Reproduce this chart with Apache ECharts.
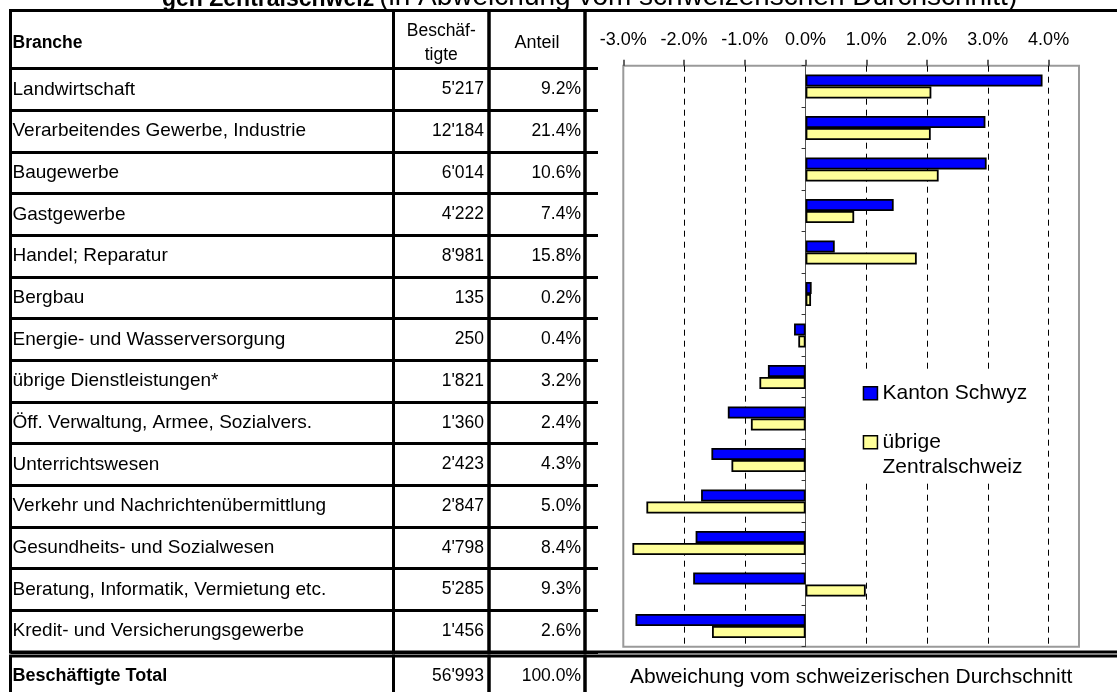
<!DOCTYPE html>
<html>
<head>
<meta charset="utf-8">
<script src="https://cdn.jsdelivr.net/npm/echarts/dist/echarts.min.js"></script>
<style>
  html, body { margin: 0; padding: 0; background: #fff; }
  #chart { width: 1117px; height: 692px; }
</style>
</head>
<body>
<div id="chart"></div>
<script>
// Daten
const branchen = [
  'Landwirtschaft',
  'Verarbeitendes Gewerbe, Industrie',
  'Baugewerbe',
  'Gastgewerbe',
  'Handel; Reparatur',
  'Bergbau',
  'Energie- und Wasserversorgung',
  'übrige Dienstleistungen*',
  'Öff. Verwaltung, Armee, Sozialvers.',
  'Unterrichtswesen',
  'Verkehr und Nachrichtenübermittlung',
  'Gesundheits- und Sozialwesen',
  'Beratung, Informatik, Vermietung etc.',
  'Kredit- und Versicherungsgewerbe'
];
const beschaeftigte = [5217, 12184, 6014, 4222, 8981, 135, 250, 1821, 1360, 2423, 2847, 4798, 5285, 1456];
const anteil = [9.2, 21.4, 10.6, 7.4, 15.8, 0.2, 0.4, 3.2, 2.4, 4.3, 5.0, 8.4, 9.3, 2.6];
const kantonSchwyz = [3.90, 2.96, 2.98, 1.45, 0.48, 0.10, -0.19, -0.62, -1.28, -1.55, -1.72, -1.81, -1.85, -2.80];
const uebrigeZentralschweiz = [2.07, 2.06, 2.19, 0.80, 1.83, 0.09, -0.12, -0.76, -0.90, -1.22, -2.62, -2.85, 0.99, -1.54];
const gridTicks = [-2, -1, 1, 2, 3, 4];
const headers = ['Branche', 'Beschäf-\ntigte', 'Anteil'];
const totalLabel = 'Beschäftigte Total';
const totalBeschaeftigte = 56993;
const totalAnteil = 100.0;
const axisTitle = 'Abweichung vom schweizerischen Durchschnitt';
const titleBold = 'gen Zentralschweiz';
const titleRest = '(in Abweichung vom schweizerischen Durchschnitt)';

const FONT = "'Liberation Sans', Arial, sans-serif";

const fmtNum = n => String(n).replace(/\B(?=(\d{3})+(?!\d))/g, "'");
const fmtPct = v => v.toFixed(1) + '%';

// Tabellen-Layout (Pixel)
const T = 10.5, HB = 68.5, DB = 652, TT = 656, TB = 696;
const HEAD_SHIFT = 3.5;
const cols = [[10.5, 393.5], [393.5, 489], [489, 585]];

const grids = [];
const xAxes = [];
const yAxes = [];

// Balkendiagramm
grids.push({ left: 623.3, top: 65.7, width: 455.7, height: 581, show: true,
  borderColor: '#9a9a9a', borderWidth: 2, backgroundColor: '#fff', containLabel: false, outerBoundsMode: 'none' });
xAxes.push({
  gridIndex: 0, type: 'value', position: 'top', min: -3, max: 4.5, interval: 1,
  axisLine: { show: false },
  axisTick: { show: true, length: 6, lineStyle: { color: '#333', width: 1.5 } },
  axisLabel: { formatter: fmtPct, showMaxLabel: false, fontSize: 18, margin: 17, color: '#000', fontFamily: FONT },
  splitLine: { show: false }
});
xAxes.push({
  gridIndex: 0, type: 'value', position: 'bottom', min: -3, max: 4.5,
  axisLine: { show: false }, axisTick: { show: false }, axisLabel: { show: false }, splitLine: { show: false },
  name: axisTitle, nameLocation: 'middle', nameGap: 20,
  nameTextStyle: { fontSize: 21, color: '#000', fontFamily: FONT }
});
yAxes.push({
  gridIndex: 0, type: 'category', inverse: true, data: branchen,
  axisLine: { show: true, onZero: true, lineStyle: { color: '#555', width: 1 } },
  axisTick: { show: true, length: 4, lineStyle: { color: '#333', width: 1 } },
  axisLabel: { show: false }, splitLine: { show: false }
});

function addCell(x0, x1, y0, y1, o) {
  const gi = grids.length;
  grids.push({ left: x0, top: y0, width: x1 - x0, height: y1 - y0, show: o.border !== false,
    borderColor: '#000', borderWidth: 3, backgroundColor: 'transparent', containLabel: false, outerBoundsMode: 'none' });
  xAxes.push({ gridIndex: gi, type: 'value', show: false });
  yAxes.push({
    gridIndex: gi, type: 'category', inverse: true, position: o.position || 'left', data: o.data,
    axisLine: { show: false }, axisTick: { show: false },
    splitLine: { show: !!o.split, interval: 0, lineStyle: { color: '#000', width: 3 } },
    axisLabel: Object.assign({
      show: o.label !== false, inside: true, interval: 0, margin: o.margin || 2,
      fontFamily: FONT, fontSize: 19, color: '#000', formatter: o.formatter
    }, o.labelStyle || {})
  });
}

// Kopfzeile: Rahmen, dann Beschriftung
cols.forEach(c => addCell(c[0], c[1], T, HB, { data: [''], label: false }));
addCell(cols[0][0], cols[0][1], T + HEAD_SHIFT, HB + HEAD_SHIFT, { data: [headers[0]], border: false,
  labelStyle: { fontWeight: 'bold', fontSize: 17.5 } });
addCell(cols[1][0], cols[1][1], T + HEAD_SHIFT, HB + HEAD_SHIFT, { data: [headers[1]], border: false,
  margin: (cols[1][1] - cols[1][0]) / 2, labelStyle: { align: 'center', fontSize: 17.5, lineHeight: 24 } });
addCell(cols[2][0], cols[2][1], T + HEAD_SHIFT, HB + HEAD_SHIFT, { data: [headers[2]], border: false,
  margin: (cols[2][1] - cols[2][0]) / 2, labelStyle: { align: 'center', fontSize: 18 } });
// Datenzeilen
addCell(cols[0][0], cols[0][1], HB, DB, { data: branchen, split: true });
addCell(cols[1][0], cols[1][1], HB, DB, { data: branchen, split: true, position: 'right', margin: 5,
  formatter: (v, i) => fmtNum(beschaeftigte[i]), labelStyle: { fontSize: 17.5 } });
addCell(cols[2][0], cols[2][1], HB, DB, { data: branchen, split: true, position: 'right', margin: 4,
  formatter: (v, i) => fmtPct(anteil[i]), labelStyle: { fontSize: 17.5 } });
// Totalzeile
addCell(cols[0][0], cols[0][1], TT, TB, { data: [totalLabel], labelStyle: { fontWeight: 'bold', fontSize: 18 } });
addCell(cols[1][0], cols[1][1], TT, TB, { data: [totalLabel], position: 'right', margin: 5,
  formatter: () => fmtNum(totalBeschaeftigte), labelStyle: { fontSize: 17.5 } });
addCell(cols[2][0], cols[2][1], TT, TB, { data: [totalLabel], position: 'right', margin: 4,
  formatter: () => fmtPct(totalAnteil), labelStyle: { fontSize: 17.5 } });
// Diagrammspalte
addCell(585, 1125, T, DB, { data: [''], label: false });
addCell(585, 1125, TT, TB, { data: [''], label: false });
addCell(585, 598, HB, DB, { data: branchen, split: true, border: false, label: false });

const chart = echarts.init(document.getElementById('chart'));
chart.setOption({
  animation: false,
  backgroundColor: '#fff',
  title: {
    text: '{b|' + titleBold + '} {n|' + titleRest + '}',
    left: 162, top: -17, padding: 0,
    textStyle: {
      fontWeight: 'normal',
      rich: {
        b: { fontWeight: 'bold', fontSize: 23, color: '#000', fontFamily: FONT, verticalAlign: 'bottom' },
        n: { fontWeight: 'normal', fontSize: 28, color: '#000', fontFamily: FONT, verticalAlign: 'bottom' }
      }
    }
  },
  legend: {
    orient: 'vertical', left: 857.7, top: 373, padding: [8, 15, 3, 5],
    backgroundColor: '#fff', itemWidth: 14, itemHeight: 13, itemGap: 0, icon: 'rect',
    selectedMode: false,
    itemStyle: { borderColor: '#000', borderWidth: 1.5 },
    textStyle: { fontSize: 21, lineHeight: 24.5, color: '#000', fontFamily: FONT },
    formatter: name => name === 'übrige Zentralschweiz' ? '\nübrige\nZentralschweiz' : name,
    data: ['Kanton Schwyz', 'übrige Zentralschweiz']
  },
  grid: grids,
  xAxis: xAxes,
  yAxis: yAxes,
  series: [
    {
      name: 'Kanton Schwyz', type: 'bar', xAxisIndex: 0, yAxisIndex: 0,
      data: kantonSchwyz, barWidth: 12, barGap: '0%',
      itemStyle: { color: '#0000ff', borderColor: '#000', borderWidth: 1.8 },
      markLine: {
        silent: true, z: 1, symbol: ['none', 'none'], label: { show: false },
        lineStyle: { color: '#000', type: [6, 5], width: 1 },
        data: gridTicks.map(v => ({ xAxis: v }))
      }
    },
    {
      name: 'übrige Zentralschweiz', type: 'bar', xAxisIndex: 0, yAxisIndex: 0,
      data: uebrigeZentralschweiz, barWidth: 12, barGap: '0%',
      itemStyle: { color: '#ffff99', borderColor: '#000', borderWidth: 1.8 }
    }
  ]
});
</script>
</body>
</html>
